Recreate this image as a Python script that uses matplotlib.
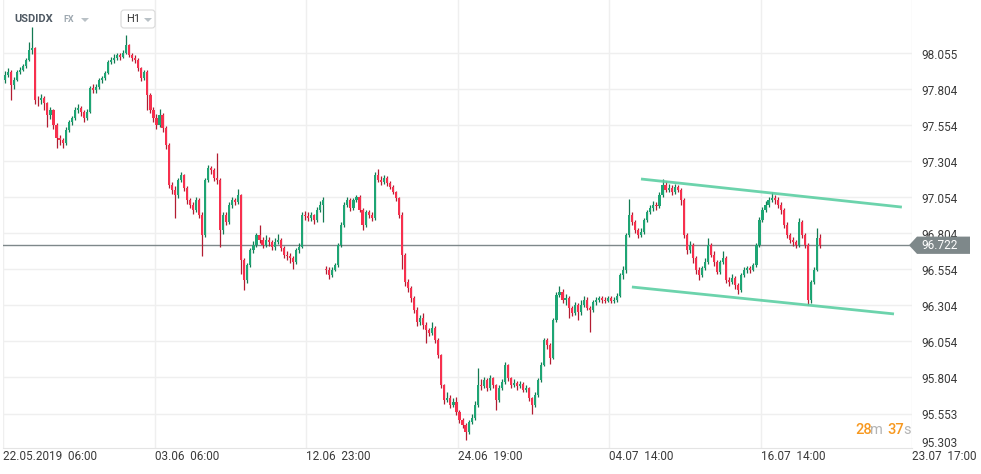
import matplotlib.pyplot as plt
import matplotlib.patches as patches
from matplotlib.transforms import blended_transform_factory

plt.rcParams['font.family'] = ['Roboto', 'DejaVu Sans']

# USDIDX, H1 candles (about 3 hours per drawn candle)
first_open = 97.87
gap_opens = {106: 96.56}  # weekend gap

closes = [
    97.904, 97.925, 97.835, 97.869, 97.925, 97.939, 97.967, 98.008, 98.078, 98.092,
    97.731, 97.728, 97.744, 97.710, 97.626, 97.661, 97.557, 97.467, 97.453, 97.432,
    97.522, 97.578, 97.606, 97.661, 97.675, 97.647, 97.606, 97.647, 97.814, 97.800,
    97.821, 97.869, 97.883, 97.918, 97.994, 98.008, 98.022, 98.043, 98.029, 98.057,
    98.112, 98.043, 98.022, 98.008, 97.953, 97.883, 97.925, 97.765, 97.661, 97.606,
    97.557, 97.626, 97.536, 97.418, 97.140, 97.106, 97.071, 97.175, 97.210, 97.120,
    97.036, 97.001, 96.967, 97.036, 96.932, 96.793, 97.175, 97.258, 97.245, 97.189,
    97.175, 96.828, 96.932, 96.883, 97.001, 97.036, 97.022, 97.071, 96.620, 96.481,
    96.585, 96.689, 96.724, 96.793, 96.758, 96.724, 96.758, 96.745, 96.710, 96.745,
    96.758, 96.703, 96.654, 96.650, 96.634, 96.606, 96.689, 96.710, 96.932, 96.925,
    96.911, 96.932, 96.897, 96.967, 97.001, 97.036, 96.550, 96.515, 96.550, 96.585,
    96.724, 96.863, 97.001, 97.036, 96.981, 97.036, 97.057, 96.967, 96.863, 96.953,
    96.932, 96.911, 97.210, 97.175, 97.161, 97.189, 97.154, 97.126, 97.092, 97.050,
    96.932, 96.654, 96.467, 96.425, 96.356, 96.272, 96.189, 96.217, 96.168, 96.133,
    96.113, 96.147, 96.064, 95.960, 95.751, 95.647, 95.661, 95.613, 95.633, 95.564,
    95.508, 95.474, 95.425, 95.494, 95.522, 95.613, 95.751, 95.745, 95.786, 95.731,
    95.800, 95.751, 95.647, 95.731, 95.772, 95.890, 95.800, 95.751, 95.765, 95.744,
    95.758, 95.717, 95.731, 95.661, 95.613, 95.682, 95.786, 95.890, 96.064, 96.029,
    95.939, 96.203, 96.377, 96.397, 96.342, 96.356, 96.286, 96.251, 96.307, 96.258,
    96.307, 96.342, 96.286, 96.272, 96.328, 96.342, 96.356, 96.342, 96.338, 96.356,
    96.335, 96.342, 96.370, 96.515, 96.550, 96.793, 96.932, 96.883, 96.828, 96.793,
    96.814, 96.897, 96.953, 96.981, 97.001, 96.995, 97.071, 97.140, 97.106, 97.120,
    97.092, 97.126, 97.106, 97.036, 96.793, 96.689, 96.724, 96.634, 96.550, 96.515,
    96.564, 96.606, 96.724, 96.654, 96.606, 96.536, 96.606, 96.634, 96.481, 96.467,
    96.495, 96.446, 96.411, 96.515, 96.550, 96.564, 96.550, 96.585, 96.724, 96.897,
    96.967, 97.001, 97.036, 97.050, 97.036, 97.001, 96.967, 96.863, 96.793, 96.758,
    96.745, 96.724, 96.883, 96.793, 96.724, 96.342, 96.467, 96.550, 96.772, 96.722,
]

highs = [
    97.93, 97.95, 97.94, 97.89, 97.94, 97.96, 97.98, 98.02, 98.13, 98.24,
    98.10, 97.76, 97.77, 97.76, 97.72, 97.68, 97.67, 97.57, 97.49, 97.47,
    97.54, 97.59, 97.62, 97.68, 97.70, 97.69, 97.66, 97.67, 97.83, 97.84,
    97.84, 97.88, 97.90, 97.93, 98.01, 98.03, 98.05, 98.06, 98.06, 98.08,
    98.18, 98.12, 98.06, 98.04, 98.02, 97.96, 97.94, 97.94, 97.78, 97.68,
    97.63, 97.67, 97.64, 97.55, 97.43, 97.16, 97.13, 97.19, 97.23, 97.22,
    97.13, 97.05, 97.02, 97.06, 97.05, 96.95, 97.19, 97.28, 97.27, 97.26,
    97.36, 97.19, 96.95, 96.95, 97.02, 97.06, 97.05, 97.11, 97.08, 96.63,
    96.60, 96.70, 96.75, 96.81, 96.86, 96.78, 96.79, 96.78, 96.76, 96.77,
    96.80, 96.77, 96.72, 96.68, 96.67, 96.65, 96.70, 96.74, 96.95, 96.96,
    96.95, 96.95, 96.94, 96.99, 97.03, 97.06, 96.58, 96.57, 96.57, 96.60,
    96.74, 96.88, 97.02, 97.06, 97.05, 97.05, 97.07, 97.07, 96.98, 96.97,
    96.97, 96.95, 97.23, 97.25, 97.20, 97.21, 97.20, 97.17, 97.14, 97.10,
    97.06, 96.95, 96.67, 96.49, 96.44, 96.37, 96.29, 96.24, 96.25, 96.19,
    96.15, 96.19, 96.16, 96.08, 95.97, 95.76, 95.70, 95.68, 95.66, 95.67,
    95.58, 95.52, 95.49, 95.51, 95.55, 95.64, 95.87, 95.79, 95.81, 95.80,
    95.82, 95.81, 95.76, 95.75, 95.79, 95.91, 95.90, 95.81, 95.79, 95.78,
    95.78, 95.77, 95.75, 95.74, 95.67, 95.70, 95.80, 95.91, 96.08, 96.08,
    96.04, 96.22, 96.40, 96.44, 96.42, 96.38, 96.37, 96.30, 96.33, 96.32,
    96.34, 96.37, 96.36, 96.30, 96.34, 96.36, 96.37, 96.37, 96.36, 96.37,
    96.37, 96.36, 96.39, 96.53, 96.58, 96.81, 97.04, 96.95, 96.90, 96.84,
    96.84, 96.91, 96.97, 97.00, 97.03, 97.02, 97.09, 97.18, 97.17, 97.15,
    97.14, 97.15, 97.14, 97.12, 97.05, 96.81, 96.75, 96.74, 96.65, 96.57,
    96.58, 96.63, 96.77, 96.74, 96.68, 96.62, 96.62, 96.68, 96.65, 96.50,
    96.52, 96.51, 96.46, 96.53, 96.57, 96.58, 96.58, 96.60, 96.74, 96.92,
    96.99, 97.03, 97.06, 97.09, 97.07, 97.06, 97.02, 96.98, 96.88, 96.81,
    96.78, 96.76, 96.91, 96.90, 96.81, 96.74, 96.48, 96.57, 96.84, 96.80,
]

lows = [
    97.85, 97.89, 97.73, 97.81, 97.86, 97.91, 97.93, 97.95, 98.00, 98.05,
    97.70, 97.69, 97.70, 97.66, 97.54, 97.60, 97.53, 97.40, 97.42, 97.40,
    97.42, 97.51, 97.56, 97.59, 97.64, 97.62, 97.58, 97.59, 97.64, 97.78,
    97.78, 97.81, 97.85, 97.87, 97.91, 97.98, 97.99, 98.01, 98.01, 98.02,
    98.05, 98.03, 98.00, 97.99, 97.93, 97.86, 97.87, 97.66, 97.64, 97.58,
    97.53, 97.54, 97.51, 97.39, 97.12, 97.08, 96.91, 97.05, 97.16, 97.10,
    97.01, 96.98, 96.94, 96.95, 96.91, 96.65, 96.78, 97.16, 97.22, 97.17,
    97.15, 96.71, 96.80, 96.86, 96.87, 96.98, 97.00, 97.01, 96.52, 96.41,
    96.46, 96.57, 96.67, 96.71, 96.74, 96.70, 96.71, 96.72, 96.69, 96.69,
    96.73, 96.68, 96.63, 96.62, 96.60, 96.56, 96.59, 96.67, 96.70, 96.90,
    96.89, 96.89, 96.87, 96.88, 96.95, 96.88, 96.52, 96.49, 96.50, 96.54,
    96.57, 96.71, 96.85, 96.99, 96.96, 96.97, 97.02, 96.95, 96.83, 96.85,
    96.91, 96.89, 96.90, 97.16, 97.14, 97.15, 97.13, 97.11, 97.08, 97.03,
    96.91, 96.56, 96.44, 96.40, 96.33, 96.25, 96.16, 96.17, 96.14, 96.04,
    96.09, 96.10, 96.04, 95.94, 95.73, 95.62, 95.63, 95.59, 95.60, 95.54,
    95.49, 95.45, 95.37, 95.41, 95.48, 95.51, 95.60, 95.72, 95.73, 95.71,
    95.72, 95.73, 95.58, 95.63, 95.72, 95.76, 95.78, 95.73, 95.74, 95.72,
    95.73, 95.70, 95.70, 95.64, 95.55, 95.60, 95.67, 95.77, 95.88, 96.00,
    95.90, 95.93, 96.19, 96.36, 96.32, 96.31, 96.22, 96.23, 96.24, 96.20,
    96.24, 96.29, 96.27, 96.12, 96.26, 96.31, 96.33, 96.32, 96.32, 96.33,
    96.32, 96.32, 96.33, 96.36, 96.49, 96.53, 96.78, 96.86, 96.81, 96.77,
    96.78, 96.80, 96.88, 96.94, 96.96, 96.97, 96.98, 97.06, 97.09, 97.09,
    97.07, 97.08, 97.09, 97.00, 96.77, 96.66, 96.67, 96.60, 96.52, 96.48,
    96.50, 96.55, 96.59, 96.64, 96.58, 96.52, 96.52, 96.59, 96.46, 96.44,
    96.45, 96.42, 96.38, 96.40, 96.50, 96.53, 96.53, 96.54, 96.57, 96.71,
    96.88, 96.95, 96.99, 97.02, 97.01, 96.98, 96.94, 96.84, 96.77, 96.74,
    96.72, 96.70, 96.71, 96.77, 96.70, 96.31, 96.32, 96.45, 96.54, 96.70,
]

last_price = 96.722

# channel lines: (candle index, price) end points
upper_x = [209.9, 296.0]
upper_y = [97.182, 96.987]
lower_x = [206.9, 293.4]
lower_y = [96.432, 96.245]

ytick_vals = [98.055, 97.804, 97.554, 97.304, 97.054, 96.804, 96.554, 96.304, 96.054, 95.804, 95.553, 95.303]
ytick_labels = ["98.055", "97.804", "97.554", "97.304", "97.054", "96.804", "96.554", "96.304",
                "96.054", "95.804", "95.553", "95.303"]
xtick_labels = ["22.05.2019  06:00", "03.06  06:00", "12.06  23:00", "24.06  19:00",
                "04.07  14:00", "16.07  14:00", "23.07  17:00"]

green, green_dark = "#1ea574", "#137a52"
red, red_dark = "#f7304e", "#b31c31"
orange, grey_txt = "#f7981f", "#b4b4b4"

fig = plt.figure(figsize=(9.81, 4.74), dpi=100)
ax = fig.add_axes([3 / 981, 26 / 474, 909 / 981, 448 / 474])
x0 = -0.66
ymin, ymax = 95.314, 98.425
ax.set_xlim(x0, x0 + 300)
ax.set_ylim(ymin, ymax)

# grid
xgrid = [x0 + 50 * k for k in range(7)]
ax.set_xticks(xgrid)
ax.set_yticks([v for v in ytick_vals if v > ymin])
ax.grid(True, color="#efefef", lw=1)
ax.set_axisbelow(True)
ax.tick_params(length=0, labelleft=False, labelbottom=False)
for s in ["top", "left", "right"]:
    ax.spines[s].set_visible(False)
ax.spines["bottom"].set_color("#e4e4e4")

# candles
opens = [first_open] + closes[:-1]
for k, v in gap_opens.items():
    opens[k] = v
idx = list(range(len(closes)))
up = [c >= o for o, c in zip(opens, closes)]
ax.axhline(last_price, color="#7e888a", lw=1, zorder=1)
ax.vlines(idx, lows, highs, colors=[green_dark if u else red_dark for u in up], lw=0.9, zorder=2)
ax.bar(idx, [abs(c - o) for o, c in zip(opens, closes)], bottom=[min(o, c) for o, c in zip(opens, closes)],
       width=0.7, color=[green if u else red for u in up], lw=0, zorder=3)

# channel
ax.plot(upper_x, upper_y, color="#5ccfa3", lw=2, alpha=0.9, zorder=4, solid_capstyle="butt")
ax.plot(lower_x, lower_y, color="#5ccfa3", lw=2, alpha=0.9, zorder=4, solid_capstyle="butt")

# right price axis labels (lowest one is pushed up inside the axis)
tr_y = blended_transform_factory(fig.transFigure, ax.transData)
for v, s in zip(ytick_vals, ytick_labels):
    ax.text(921 / 981, max(v - 0.012, ymin + 0.03), s, transform=tr_y, fontsize=8.5, color="#3a3a3a",
            va="center", ha="left", clip_on=False)

# last price tag
h = 0.06
tag = patches.Polygon([(909 / 981, last_price), (917 / 981, last_price + h), (970 / 981, last_price + h),
                       (970 / 981, last_price - h), (917 / 981, last_price - h)],
                      closed=True, transform=tr_y, facecolor="#7e888a", edgecolor="none",
                      clip_on=False, zorder=10)
ax.add_patch(tag)
ax.text(921 / 981, last_price, f"{last_price:.3f}", transform=tr_y, fontsize=8.5, color="white",
        va="center", ha="left", clip_on=False, zorder=11)

# date labels
tr_x = blended_transform_factory(ax.transData, fig.transFigure)
for xp, s in zip(xgrid, xtick_labels):
    ax.text(xp, 17 / 474, s, transform=tr_x, fontsize=8.5, color="#3a3a3a",
            va="center", ha="left", clip_on=False)


def small_triangle(px, py, color):
    # little dropdown arrow, given in pixels from the top-left corner
    pts = [((px) / 100, (474 - py) / 100), ((px + 8) / 100, (474 - py) / 100),
           ((px + 4) / 100, (474 - py - 4) / 100)]
    fig.add_artist(patches.Polygon(pts, closed=True, transform=fig.dpi_scale_trans,
                                   facecolor=color, edgecolor="none"))


# header
fig.text(14 / 981, 1 - 19.5 / 474, "USDIDX", fontsize=8, weight="bold", color="#4f5963", va="center")
fig.text(63 / 981, 1 - 19.5 / 474, "FX", fontsize=6.5, weight="bold", color="#9ea8b0", va="center")
small_triangle(81, 18, "#b9c1c6")
box = patches.FancyBboxPatch((1.21, (474 - 28) / 100), 0.34, 0.18, boxstyle="round,pad=0,rounding_size=0.03",
                             transform=fig.dpi_scale_trans, facecolor="white", edgecolor="#d9d9d9", lw=0.8)
fig.add_artist(box)
fig.text(126 / 981, 1 - 19.5 / 474, "H1", fontsize=8, color="#333333", va="center")
small_triangle(144, 18, "#b9c1c6")

# countdown
ty = 1 - 430 / 474
fig.text(855 / 981, ty, "28", fontsize=10.5, color=orange, va="center", weight="medium")
fig.text(870 / 981, ty, "m", fontsize=10.5, color=grey_txt, va="center")
fig.text(887 / 981, ty, "37", fontsize=10.5, color=orange, va="center", weight="medium")
fig.text(903 / 981, ty, "s", fontsize=10.5, color=grey_txt, va="center")

fig.savefig("out.png", dpi=100, facecolor="white")
